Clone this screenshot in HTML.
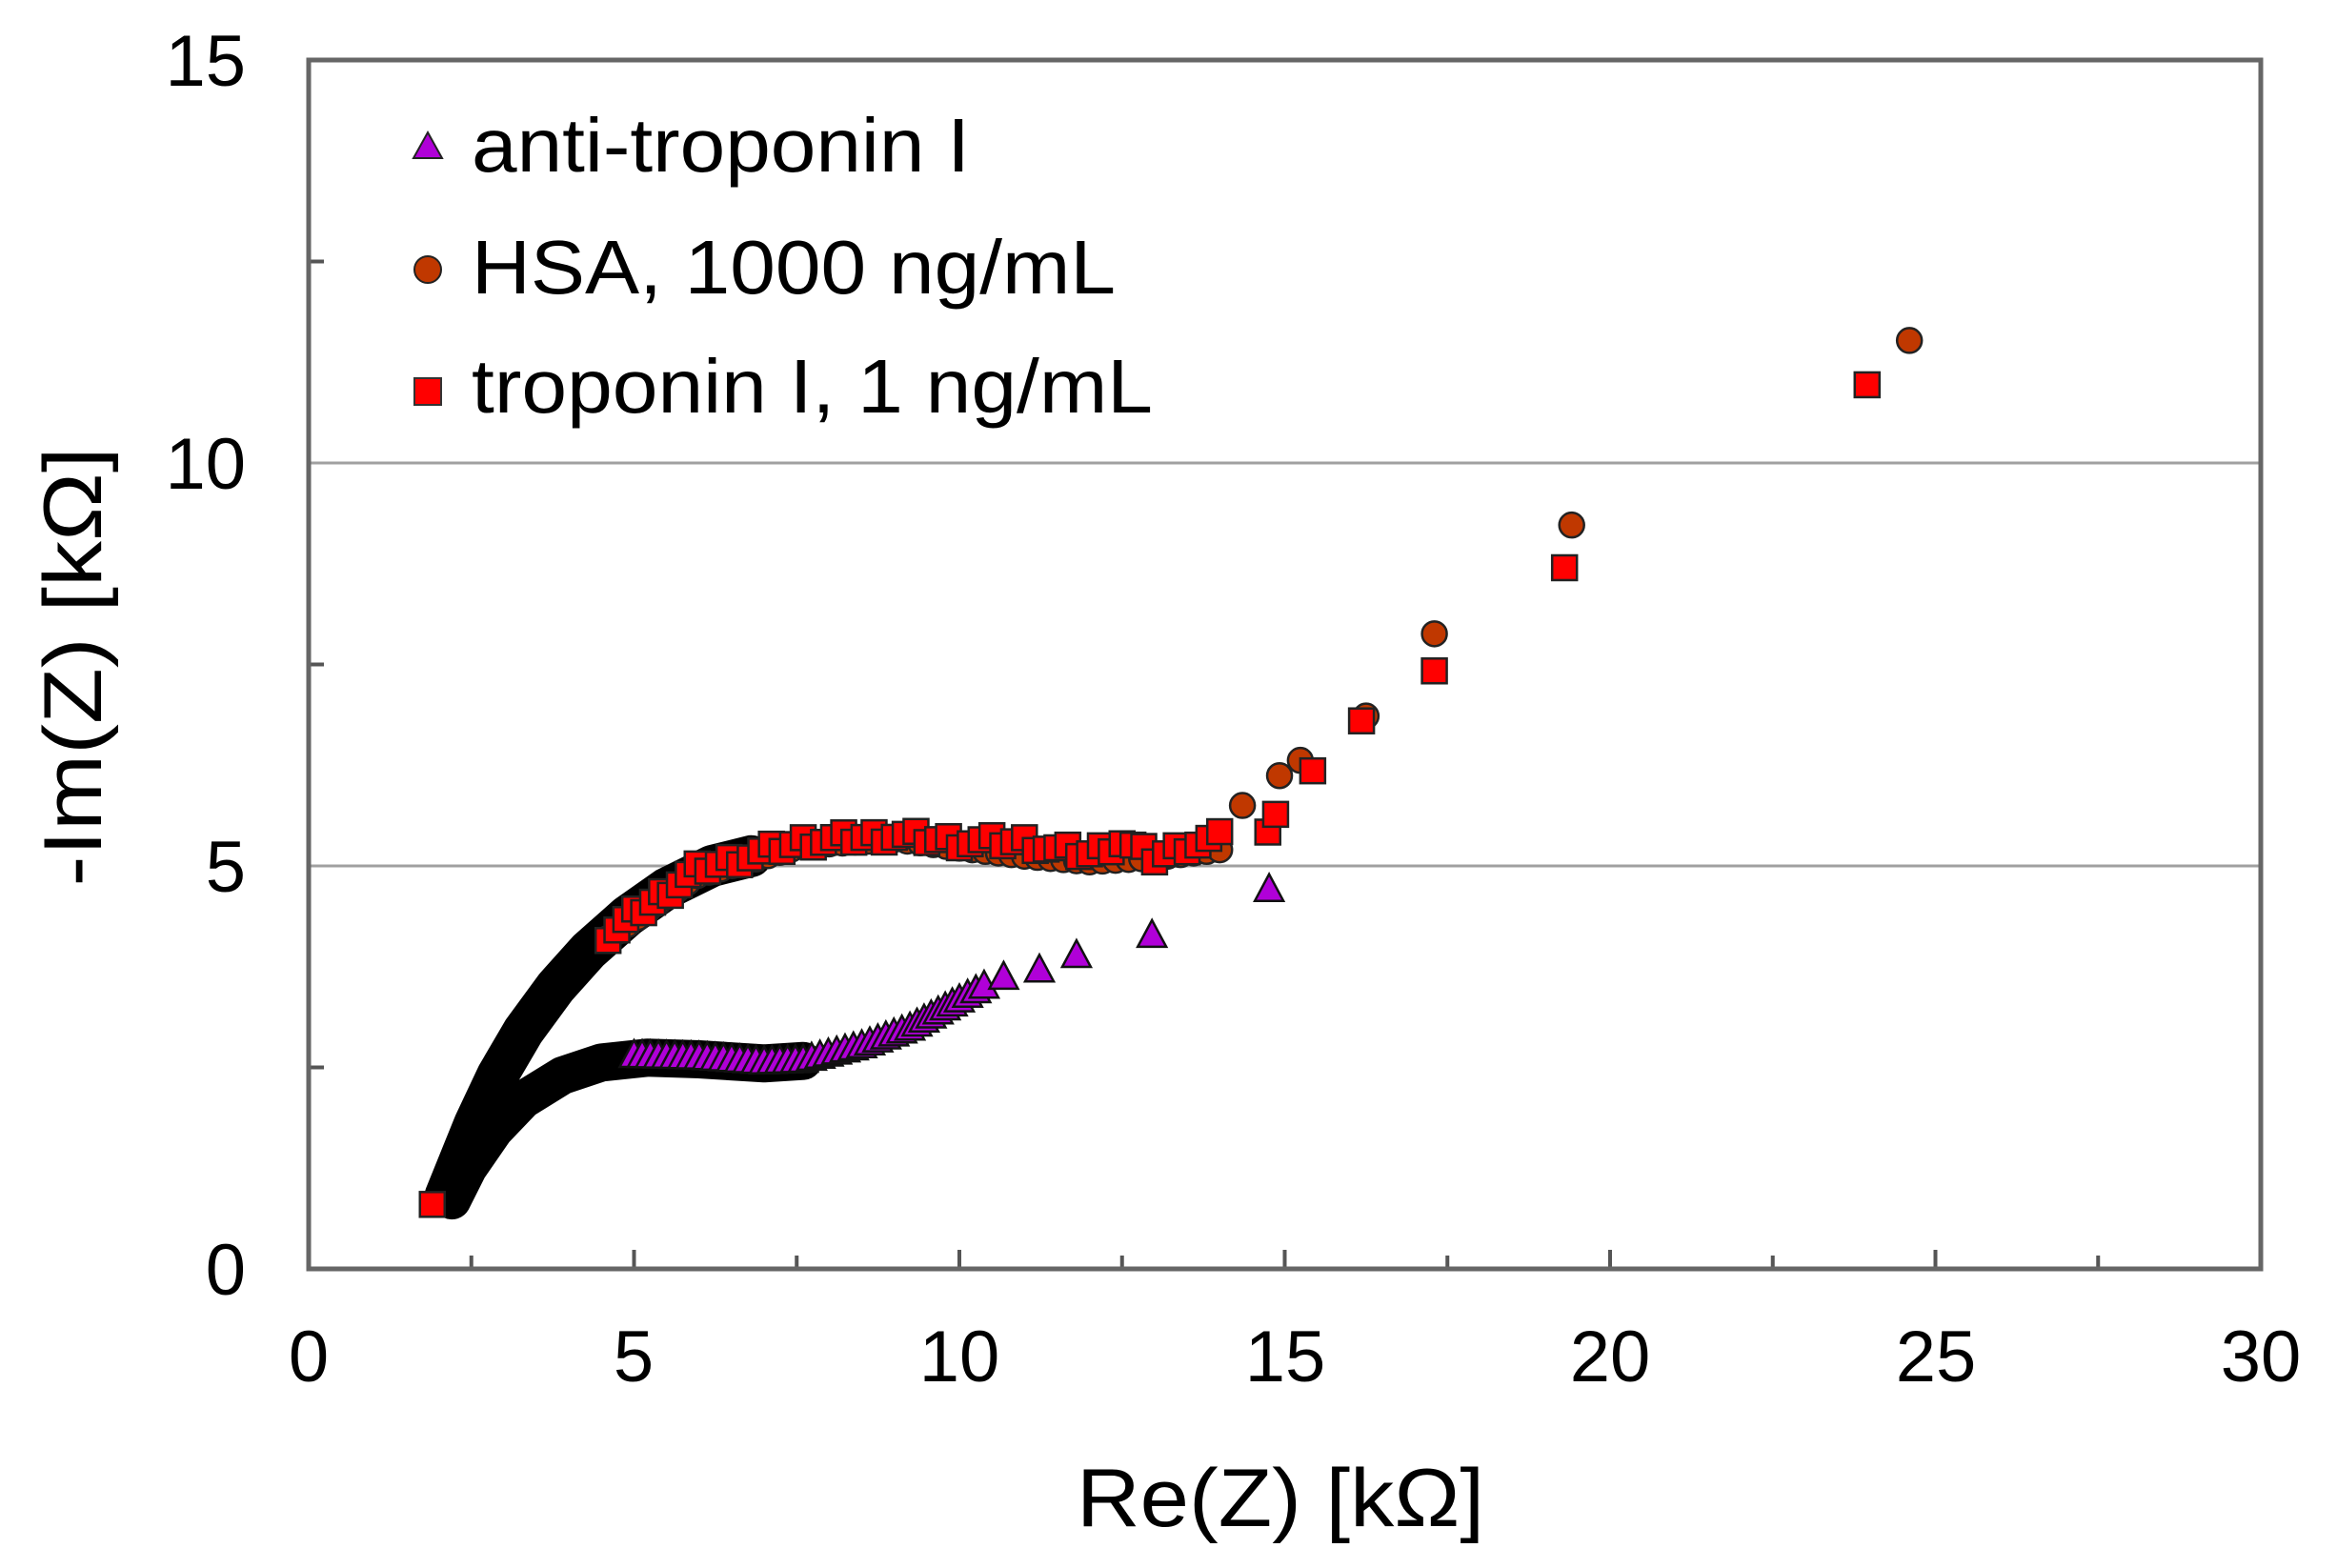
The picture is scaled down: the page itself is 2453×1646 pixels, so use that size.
<!DOCTYPE html>
<html><head><meta charset="utf-8"><style>
html,body{margin:0;padding:0;background:#fff;}
svg{display:block;}
text{font-family:"Liberation Sans",Arial,sans-serif;fill:#000;}
</style></head><body>
<svg id="s" width="2453" height="1646" viewBox="0 0 2453 1646" xmlns="http://www.w3.org/2000/svg">
<rect width="2453" height="1646" fill="#fff"/>
<line x1="324" y1="909" x2="2373" y2="909" stroke="#a0a0a0" stroke-width="3"/>
<line x1="324" y1="486" x2="2373" y2="486" stroke="#a0a0a0" stroke-width="3"/>
<g id="ticks" stroke="#555" stroke-width="4"></g>
<g id="data"></g>
<rect x="324" y="63" width="2049" height="1269" fill="none" stroke="#666" stroke-width="5"/>
<g font-size="76" text-anchor="middle">
<text x="324" y="1450">0</text><text x="665" y="1450">5</text><text x="1007" y="1450">10</text>
<text x="1349" y="1450">15</text><text x="1690" y="1450">20</text><text x="2032" y="1450">25</text><text x="2373" y="1450">30</text>
</g>
<g font-size="76" text-anchor="end">
<text x="258" y="1359">0</text><text x="258" y="936">5</text><text x="258" y="513">10</text><text x="258" y="90">15</text>
</g>
<text x="1344" y="1602" font-size="86" text-anchor="middle" textLength="428" lengthAdjust="spacingAndGlyphs">Re(Z) [kΩ]</text>
<text transform="translate(106,700) rotate(-90)" font-size="86" text-anchor="middle" textLength="461" lengthAdjust="spacingAndGlyphs">-Im(Z) [kΩ]</text>
<g font-size="80">
<text x="495" y="180" textLength="523" lengthAdjust="spacingAndGlyphs">anti-troponin I</text>
<text x="495" y="308" textLength="676" lengthAdjust="spacingAndGlyphs">HSA, 1000 ng/mL</text>
<text x="495" y="433" textLength="715" lengthAdjust="spacingAndGlyphs">troponin I, 1 ng/mL</text>
</g>
<polygon points="449,139 464,166 434,166" fill="#b000d8" stroke="#222" stroke-width="2"/>
<circle cx="449" cy="283" r="14" fill="#c03800" stroke="#222" stroke-width="2"/>
<rect x="435" y="397" width="28" height="28" fill="#ff0000" stroke="#333" stroke-width="2"/>
</svg>
<script>
var NS="http://www.w3.org/2000/svg";
function X(x){return 324+68.3*x;} function Y(y){return 1332-84.6*y;}
var tk=document.getElementById('ticks');
function ln(x1,y1,x2,y2){var l=document.createElementNS(NS,'line');l.setAttribute('x1',x1);l.setAttribute('y1',y1);l.setAttribute('x2',x2);l.setAttribute('y2',y2);tk.appendChild(l);}
for(var i=1;i<12;i++){var x=X(i*2.5);ln(x,1332,x,1332-(i%2?14:20));}
[2.5,7.5,12.5].forEach(function(v){ln(324,Y(v),340,Y(v));});
var g=document.getElementById('data');
function el(t,a){var e=document.createElementNS(NS,t);for(var k in a)e.setAttribute(k,a[k]);g.appendChild(e);return e;}
function path(pts,w){var d=pts.map(function(p,i){return (i?'L':'M')+X(p[0]).toFixed(1)+' '+Y(p[1]).toFixed(1);}).join(' ');
 el('path',{d:d,fill:'none',stroke:'#000','stroke-width':w,'stroke-linejoin':'round','stroke-linecap':'round'});}
function sample(pts,step){var out=[];for(var i=0;i<pts.length-1;i++){var a=pts[i],b=pts[i+1];var dx=X(b[0])-X(a[0]),dy=Y(b[1])-Y(a[1]);var L=Math.sqrt(dx*dx+dy*dy);var n=Math.max(1,Math.round(L/step));for(var j=0;j<n;j++){var t=j/n;out.push([a[0]+(b[0]-a[0])*t,a[1]+(b[1]-a[1])*t]);}}out.push(pts[pts.length-1]);return out;}
function tri(x,y){var cx=X(x),cy=Y(y);el('polygon',{points:cx+','+(cy-15)+' '+(cx+15)+','+(cy+13)+' '+(cx-15)+','+(cy+13),fill:'#b000d8',stroke:'#111','stroke-width':2.5});}
function cir(x,y){el('circle',{cx:X(x),cy:Y(y),r:13,fill:'#c03800',stroke:'#222','stroke-width':2.5});}
function sq(x,y){el('rect',{x:X(x)-13,y:Y(y)-13,width:26,height:26,fill:'#ff0000',stroke:'#222','stroke-width':2.5});}
// black bands
path([[2.1,0.9],[2.3,1.3],[2.55,1.8],[2.9,2.4],[3.3,2.95],[3.8,3.5],[4.3,3.95],[4.9,4.38],[5.5,4.72],[6.2,5.0],[6.8,5.12]],44);
path([[2.2,0.85],[2.45,1.25],[2.85,1.72],[3.3,2.1],[3.9,2.4],[4.5,2.56],[5.2,2.62],[6,2.6],[7,2.55],[7.6,2.58]],40);
// triangles
var tl=sample([[5.0,2.66],[6,2.64],[7.0,2.58],[7.6,2.6],[8.5,2.78],[9.24,3.0],[10.0,3.35],[10.38,3.52]],9);
tl.forEach(function(p){tri(p[0],p[1]);});
[[10.68,3.63],[11.23,3.72],[11.8,3.9],[12.96,4.15],[14.76,4.72]].forEach(function(p){tri(p[0],p[1]);});
// circles
var cl=sample([[4.6,4.1],[5.97,4.88],[7.6,5.25],[9,5.33],[10,5.22],[11,5.12],[12,5.05],[13,5.1],[14,5.2]],13);
cl.forEach(function(p){cir(p[0],p[1]);});
[[14.35,5.75],[14.92,6.12],[15.24,6.31],[16.25,6.86],[17.3,7.88],[19.41,9.23],[24.6,11.52]].forEach(function(p){cir(p[0],p[1]);});
// squares
var sl=sample([[4.6,4.15],[5.97,4.95],[7.6,5.3],[9,5.38],[10,5.3],[11,5.3],[11.5,5.2],[12,5.15],[12.5,5.3],[13,5.1],[13.5,5.25],[14,5.35]],11);
sl.forEach(function(p,i){sq(p[0],p[1]+((i*37)%7-3)*0.025);});
[[14.74,5.42],[14.86,5.64],[15.43,6.18],[16.18,6.8],[17.3,7.42],[19.3,8.7],[23.95,10.97]].forEach(function(p){sq(p[0],p[1]);});
sq(1.9,0.8);
</script>
</body></html>
